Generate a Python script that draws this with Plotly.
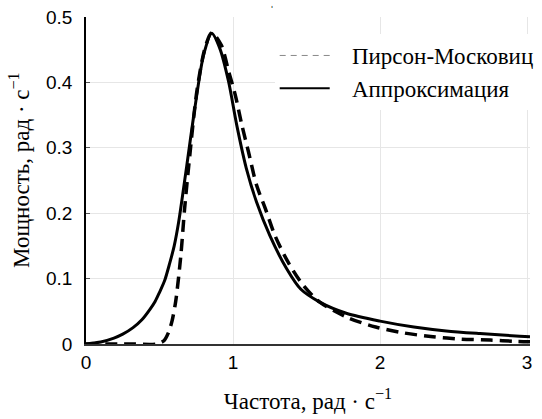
import plotly.graph_objects as go

# Approximation (solid)
approx_x = [0.0, 0.05, 0.10, 0.19, 0.25, 0.32, 0.38, 0.435, 0.47, 0.50, 0.535, 0.57, 0.60,
            0.63, 0.685, 0.74, 0.80, 0.855, 0.91, 0.97, 1.025, 1.09, 1.16, 1.25, 1.365,
            1.46, 1.59, 1.77, 2.0, 2.23, 2.45, 2.68, 2.95, 3.02]
approx_y = [0.0, 0.0015, 0.003, 0.009, 0.015, 0.025, 0.037, 0.053, 0.065, 0.079, 0.097,
            0.124, 0.150, 0.186, 0.272, 0.360, 0.442, 0.475, 0.452, 0.401, 0.335, 0.269,
            0.217, 0.166, 0.115, 0.084, 0.064, 0.047, 0.035, 0.026, 0.020, 0.016, 0.012, 0.011]

# Pierson-Moskowitz (dashed)
pm_x = [0.0, 0.30, 0.48, 0.53, 0.56, 0.585, 0.61, 0.645, 0.67, 0.70, 0.755, 0.81, 0.855,
        0.92, 0.97, 1.015, 1.06, 1.105, 1.16, 1.22, 1.285, 1.37, 1.47, 1.59, 1.785, 1.97,
        2.16, 2.36, 2.55, 2.75, 2.93, 3.02]
pm_y = [0.0, 0.0, 0.0, 0.005, 0.017, 0.035, 0.065, 0.135, 0.205, 0.275, 0.388, 0.453, 0.476,
        0.457, 0.417, 0.381, 0.335, 0.294, 0.243, 0.207, 0.166, 0.127, 0.092, 0.064, 0.040,
        0.026, 0.017, 0.011, 0.0075, 0.006, 0.004, 0.0035]

legend_names = ["Пирсон-Московиц", "Аппроксимация"]
x_title = "Частота, рад · с<sup>−1</sup>"
y_title = "Мощность, рад · с<sup>−1</sup>"
x_ticks = [0, 1, 2, 3]
y_ticks = [0, 0.1, 0.2, 0.3, 0.4, 0.5]

SERIF = "Liberation Serif, Times New Roman, serif"
SANS = "Liberation Sans, Arial, sans-serif"
NB = "\u00a0\u00a0\u00a0"

fig = go.Figure()
fig.add_trace(go.Scatter(x=pm_x, y=pm_y, mode="lines", line_shape="spline",
                         line=dict(color="black", width=3.5, dash="12px,7px", smoothing=0.8),
                         showlegend=False))
fig.add_trace(go.Scatter(x=approx_x, y=approx_y, mode="lines", line_shape="spline",
                         line=dict(color="black", width=3, smoothing=0.8), showlegend=False))
# legend entries
fig.add_trace(go.Scatter(x=[None], y=[None], mode="lines", name=NB + legend_names[0],
                         line=dict(color="#888888", width=1, dash="6px,5px")))
fig.add_trace(go.Scatter(x=[None], y=[None], mode="lines", name=NB + legend_names[1],
                         line=dict(color="black", width=2)))

fig.add_annotation(text="ˈ", x=0.419, y=1.045, xref="paper", yref="paper",
                   showarrow=False, font=dict(family=SANS, size=12, color="black"))
fig.add_annotation(text=y_title, x=-0.151, y=0.532, xref="paper", yref="paper",
                   xanchor="center", yanchor="middle", textangle=-90, showarrow=False,
                   font=dict(family=SERIF, size=23, color="black"))

fig.update_layout(
    width=542, height=419,
    margin=dict(l=86, r=12, t=17, b=75, autoexpand=False),
    paper_bgcolor="white", plot_bgcolor="white",
    legend=dict(x=0.425, y=0.948, xanchor="left", yanchor="top",
                bgcolor="white", borderwidth=0,
                font=dict(family=SERIF, size=23, color="black"),
                itemwidth=50, traceorder="normal"),
    xaxis=dict(range=[0, 3.02], tickvals=x_ticks, ticktext=[str(v) for v in x_ticks],
               showgrid=True, gridcolor="#e6e6e6", gridwidth=1,
               showline=True, linecolor="#333333", linewidth=1.5,
               ticks="", zeroline=False, automargin=False,
               tickfont=dict(family=SANS, size=19, color="black"),
               title=dict(text=x_title, font=dict(family=SERIF, size=23, color="black"),
                          standoff=21)),
    yaxis=dict(range=[0, 0.5], tickvals=y_ticks, ticktext=[str(v) for v in y_ticks],
               showgrid=True, gridcolor="#e6e6e6", gridwidth=1,
               showline=True, linecolor="black", linewidth=1.5,
               ticks="inside", ticklen=4, tickcolor="#555555", zeroline=False,
               ticklabelstandoff=8, automargin=False,
               tickfont=dict(family=SANS, size=19, color="black")),
)

fig.write_html("out.html")
